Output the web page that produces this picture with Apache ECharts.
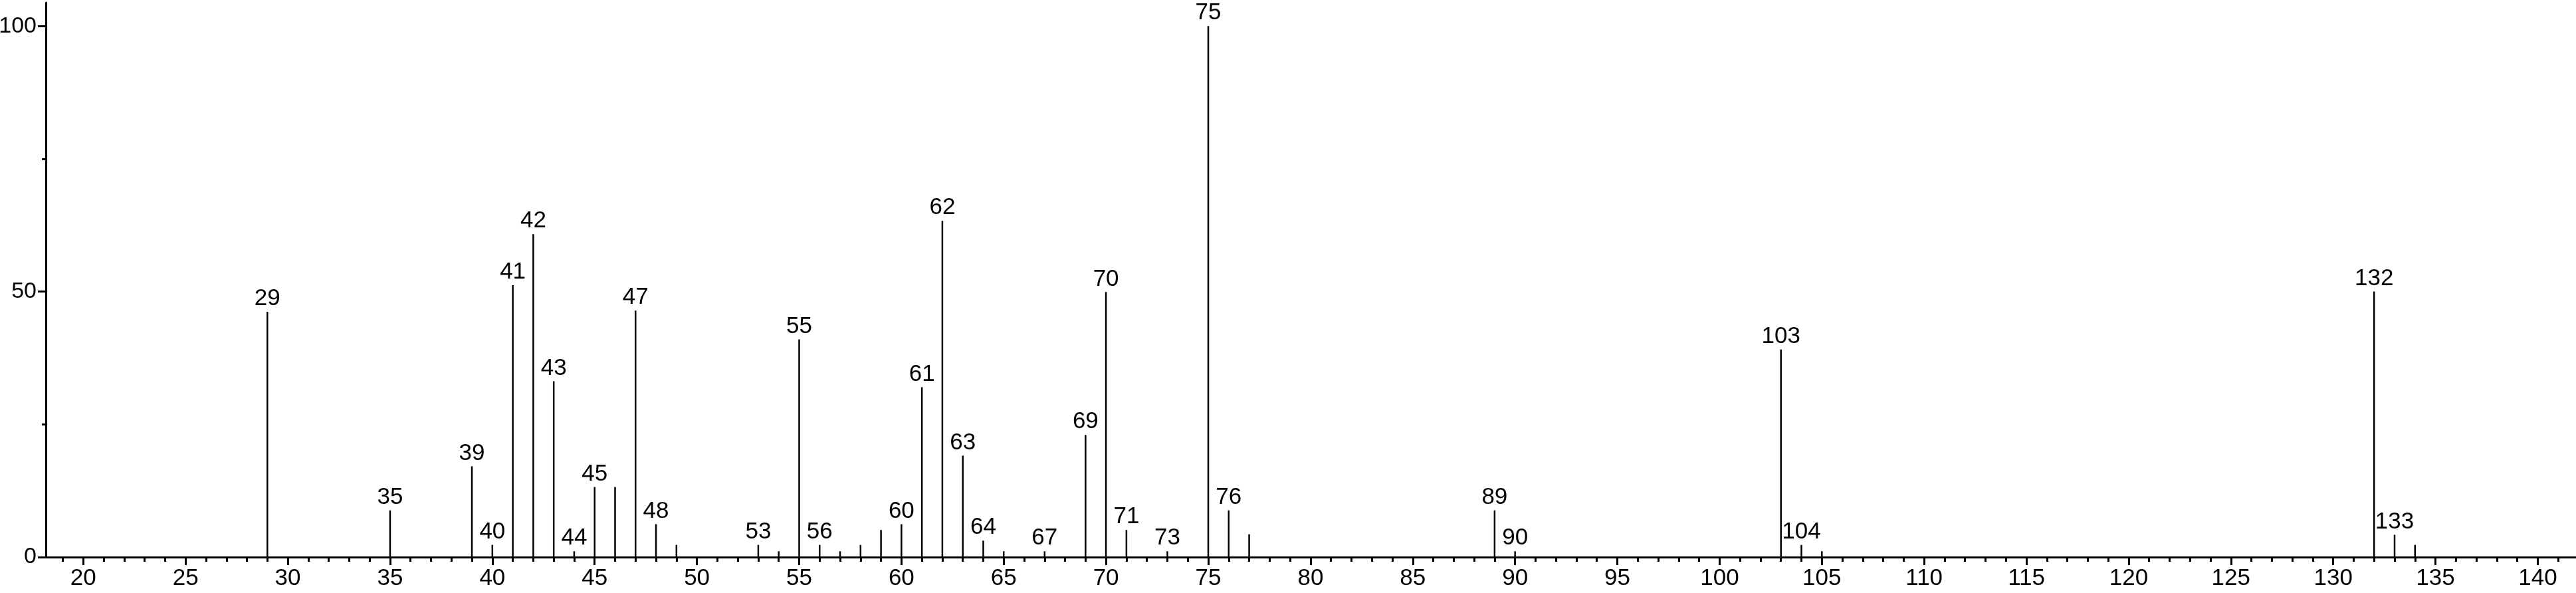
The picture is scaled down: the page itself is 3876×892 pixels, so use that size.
<!DOCTYPE html>
<html>
<head>
<meta charset="utf-8">
<script src="https://cdn.jsdelivr.net/npm/echarts@6/dist/echarts.min.js"></script>
<style>
  html, body { margin: 0; padding: 0; background: #fff; }
  #chart { width: 3876px; height: 892px; }
</style>
</head>
<body>
<div id="chart"></div>
<script>
// m/z of each peak and its relative intensity (%)
const mz = [29, 35, 39, 40, 41, 42, 43, 44, 45, 46, 47, 48, 49, 53, 54, 55, 56, 57, 58, 59,
  60, 61, 62, 63, 64, 65, 67, 69, 70, 71, 73, 75, 76, 77, 89, 90, 103, 104, 105, 132, 133, 134]
const intensity = [46.2, 8.8, 17.1, 2.3, 51.2, 60.8, 33.1, 1.1, 13.2, 13.2, 46.4, 6.2, 2.3, 2.3, 1.1, 41.0, 2.3, 1.1, 2.3, 5.1,
  6.2, 32.0, 63.3, 19.1, 3.1, 1.1, 1.1, 23.0, 49.9, 5.1, 1.1, 100, 8.8, 4.3, 8.8, 1.1, 39.1, 2.3, 1.1, 50.0, 4.2, 2.3]
// peaks that carry an m/z label
const labelled = [29, 35, 39, 40, 41, 42, 43, 44, 45, 47, 48, 53, 55, 56, 60, 61, 62, 63, 64, 67,
  69, 70, 71, 73, 75, 76, 89, 90, 103, 104, 132, 133]

const xTicks = [20, 25, 30, 35, 40, 45, 50, 55, 60, 65, 70, 75, 80, 85, 90, 95, 100, 105, 110, 115, 120, 125, 130, 135, 140]
const yTicks = [0, 50, 100]
const yMinorTicks = [25, 75]

const xMin = 18.17
const xMax = 141.87
const yMax = 104.4

const xMinorTicks = []
for (let v = 19; v <= 141; v++) {
  if (v % 5 !== 0) xMinorTicks.push(v)
}

const font = 'Liberation Sans, Arial, sans-serif'

const data = mz.map((x, i) => {
  return {
    value: [x, intensity[i]],
    label: { show: labelled.indexOf(x) >= 0 }
  }
})

const chart = echarts.init(document.getElementById('chart'))
chart.setOption({
  animation: false,
  backgroundColor: '#fff',
  grid: {
    left: 69,
    right: 0,
    top: 4,
    bottom: 54,
    outerBoundsMode: 'none'
  },
  xAxis: [{
    type: 'value',
    position: 'bottom',
    min: xMin,
    max: xMax,
    axisLine: { show: true, lineStyle: { color: '#000', width: 3 } },
    axisTick: { show: true, customValues: xTicks, length: 12, lineStyle: { color: '#000', width: 3 } },
    axisLabel: { customValues: xTicks, color: '#000', fontSize: 35, fontFamily: font, margin: 15 },
    splitLine: { show: false }
  }, {
    type: 'value',
    position: 'bottom',
    min: xMin,
    max: xMax,
    axisLine: { show: false },
    axisTick: { show: true, customValues: xMinorTicks, length: 7, lineStyle: { color: '#000', width: 3 } },
    axisLabel: { show: false },
    splitLine: { show: false }
  }],
  yAxis: [{
    type: 'value',
    position: 'left',
    min: 0,
    max: yMax,
    axisLine: { show: true, lineStyle: { color: '#000', width: 3 } },
    axisTick: { show: true, customValues: yTicks, length: 12, lineStyle: { color: '#000', width: 3 } },
    axisLabel: { customValues: yTicks, color: '#000', fontSize: 34, fontFamily: font, margin: 14 },
    splitLine: { show: false }
  }, {
    type: 'value',
    position: 'left',
    min: 0,
    max: yMax,
    axisLine: { show: false },
    axisTick: { show: true, customValues: yMinorTicks, length: 6, lineStyle: { color: '#000', width: 3 } },
    axisLabel: { show: false },
    splitLine: { show: false }
  }],
  series: [{
    type: 'bar',
    xAxisIndex: 0,
    yAxisIndex: 0,
    barWidth: 2.5,
    itemStyle: { color: '#000' },
    label: {
      position: 'top',
      distance: 2,
      color: '#000',
      fontSize: 35,
      fontFamily: font,
      formatter: p => p.value[0]
    },
    data: data
  }]
})
</script>
</body>
</html>
